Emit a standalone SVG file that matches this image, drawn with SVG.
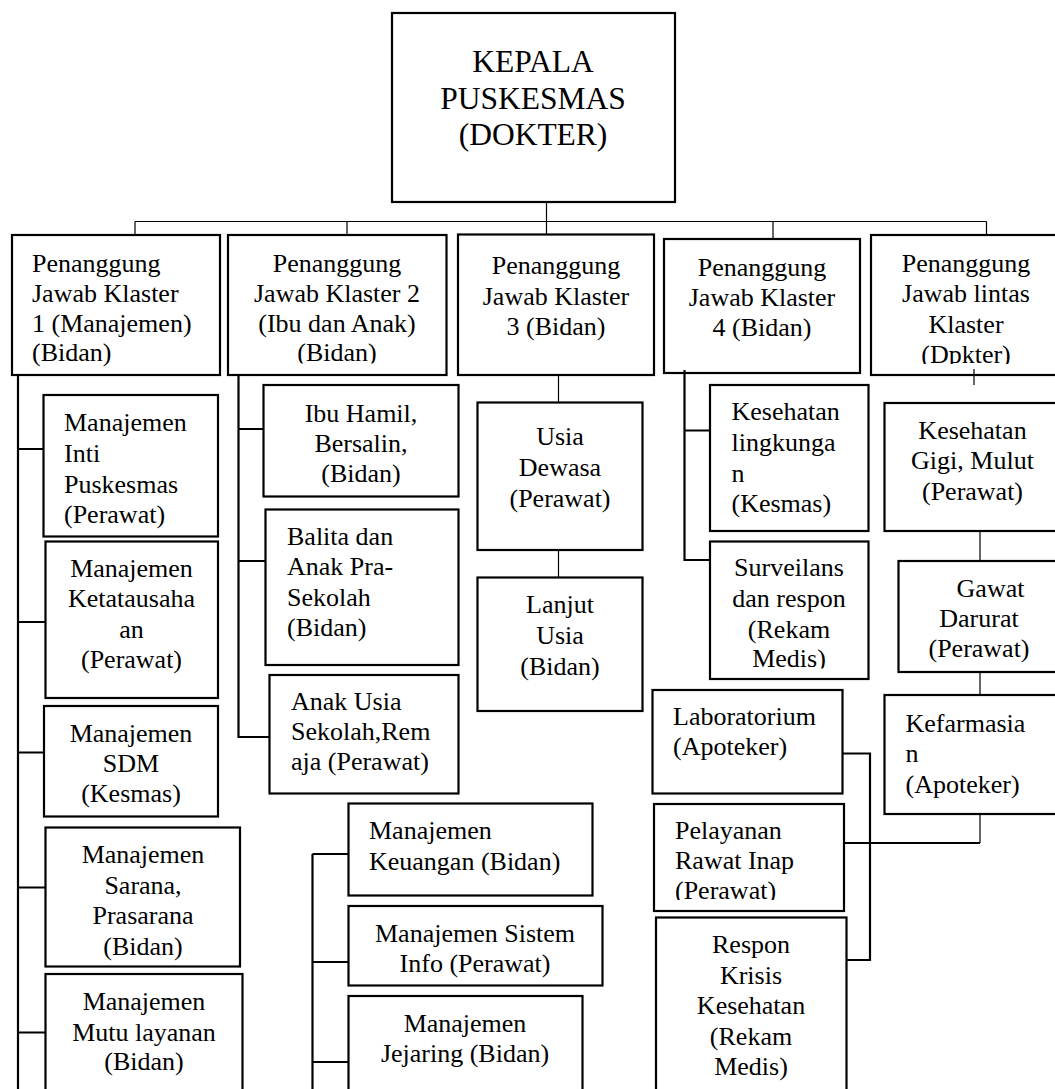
<svg xmlns="http://www.w3.org/2000/svg" width="1055" height="1089" viewBox="0 0 1055 1089" font-family="Liberation Serif, Tinos, Times New Roman, Nimbus Roman, DejaVu Serif, serif">
<style>
.box{fill:#fff;stroke:#000;stroke-width:2.2}
.t{font-family:'Liberation Serif','Tinos','Times New Roman','Nimbus Roman','DejaVu Serif',serif;font-size:26px;fill:#000}
.c{text-anchor:middle}
.big{font-size:31.5px}
.ln{stroke:#000;fill:none;stroke-width:2.2}
.th{stroke:#000;fill:none;stroke-width:1.2}
</style>
<defs>
<clipPath id="clipB2"><rect x="228" y="235" width="219" height="128.5"/></clipPath>
<clipPath id="clipB5"><rect x="871" y="235" width="192" height="129"/></clipPath>
<clipPath id="clipSurv"><rect x="710" y="541" width="159" height="127.5"/></clipPath>
<clipPath id="clipPel"><rect x="654" y="804" width="190" height="96"/></clipPath>
</defs>
<rect width="1055" height="1089" fill="#fff"/>

<g id="kepala">
<rect class="box" x="392" y="13" width="283" height="189"/>
<text class="t c big" x="533" y="72">KEPALA</text>
<text class="t c big" x="533" y="108.5">PUSKESMAS</text>
<text class="t c big" x="533" y="145">(DOKTER)</text>
</g>

<g id="pj1">
<rect class="box" x="12" y="235" width="208" height="140"/>
<text class="t" x="32" y="272">Penanggung</text>
<text class="t" x="32" y="302">Jawab Klaster</text>
<text class="t" x="32" y="331.5">1 (Manajemen)</text>
<text class="t" x="32" y="361">(Bidan)</text>
</g>
<g id="pj2">
<rect class="box" x="228" y="235" width="218.5" height="140"/>
<g clip-path="url(#clipB2)">
<text class="t c" x="337" y="272">Penanggung</text>
<text class="t c" x="337" y="302">Jawab Klaster 2</text>
<text class="t c" x="337" y="331.5">(Ibu dan Anak)</text>
<text class="t c" x="337" y="361">(Bidan)</text>
</g>
</g>
<g id="pj3">
<rect class="box" x="458" y="234.5" width="196" height="140.5"/>
<text class="t c" x="556" y="274">Penanggung</text>
<text class="t c" x="556" y="305">Jawab Klaster</text>
<text class="t c" x="556" y="335">3 (Bidan)</text>
</g>
<g id="pj4">
<rect class="box" x="664" y="239" width="196" height="134"/>
<text class="t c" x="762" y="275.5">Penanggung</text>
<text class="t c" x="762" y="306">Jawab Klaster</text>
<text class="t c" x="762" y="336">4 (Bidan)</text>
</g>
<g id="pj5">
<rect class="box" x="871" y="235" width="192" height="140"/>
<g clip-path="url(#clipB5)">
<text class="t c" x="966" y="271.5">Penanggung</text>
<text class="t c" x="966" y="302">Jawab lintas</text>
<text class="t c" x="966" y="332.5">Klaster</text>
<text class="t c" x="966" y="363">(Dpkter)</text>
</g>
</g>

<g id="inti">
<rect class="box" x="43.5" y="395" width="174.5" height="141.5"/>
<text class="t" x="64" y="431">Manajemen</text>
<text class="t" x="64" y="462">Inti</text>
<text class="t" x="64" y="493">Puskesmas</text>
<text class="t" x="64" y="523">(Perawat)</text>
</g>
<g id="ketatausahaan">
<rect class="box" x="45.5" y="541.5" width="172.5" height="156.5"/>
<text class="t c" x="131.5" y="577">Manajemen</text>
<text class="t c" x="131.5" y="607">Ketatausaha</text>
<text class="t c" x="131.5" y="638">an</text>
<text class="t c" x="131.5" y="668">(Perawat)</text>
</g>
<g id="sdm">
<rect class="box" x="44" y="706" width="174" height="110.5"/>
<text class="t c" x="131" y="742">Manajemen</text>
<text class="t c" x="131" y="772">SDM</text>
<text class="t c" x="131" y="802">(Kesmas)</text>
</g>
<g id="sarana">
<rect class="box" x="45.5" y="827.5" width="194.5" height="139"/>
<text class="t c" x="143" y="863">Manajemen</text>
<text class="t c" x="143" y="893.5">Sarana,</text>
<text class="t c" x="143" y="924">Prasarana</text>
<text class="t c" x="143" y="955">(Bidan)</text>
</g>
<g id="mutu">
<rect class="box" x="45.5" y="974" width="197" height="130"/>
<text class="t c" x="144" y="1010">Manajemen</text>
<text class="t c" x="144" y="1040.5">Mutu layanan</text>
<text class="t c" x="144" y="1070">(Bidan)</text>
</g>

<g id="ibuhamil">
<rect class="box" x="263.5" y="385" width="195" height="111.5"/>
<text class="t c" x="361" y="421.5">Ibu Hamil,</text>
<text class="t c" x="361" y="451.5">Bersalin,</text>
<text class="t c" x="361" y="481.5">(Bidan)</text>
</g>
<g id="balita">
<rect class="box" x="265.5" y="509.5" width="193" height="155.5"/>
<text class="t" x="287" y="545">Balita dan</text>
<text class="t" x="287" y="575">Anak Pra-</text>
<text class="t" x="287" y="605.5">Sekolah</text>
<text class="t" x="287" y="636">(Bidan)</text>
</g>
<g id="anakusia">
<rect class="box" x="269.5" y="675" width="189" height="118.5"/>
<text class="t" x="291" y="710">Anak Usia</text>
<text class="t" x="291" y="740">Sekolah,Rem</text>
<text class="t" x="291" y="770">aja (Perawat)</text>
</g>

<g id="dewasa">
<rect class="box" x="477.5" y="402.5" width="165" height="147.5"/>
<text class="t c" x="560" y="445">Usia</text>
<text class="t c" x="560" y="476">Dewasa</text>
<text class="t c" x="560" y="506.5">(Perawat)</text>
</g>
<g id="lansia">
<rect class="box" x="477.5" y="577.5" width="165" height="133.5"/>
<text class="t c" x="560" y="613">Lanjut</text>
<text class="t c" x="560" y="644">Usia</text>
<text class="t c" x="560" y="675">(Bidan)</text>
</g>

<g id="kesling">
<rect class="box" x="710" y="385" width="158.5" height="146"/>
<text class="t" x="731.5" y="420">Kesehatan</text>
<text class="t" x="731.5" y="450.5">lingkunga</text>
<text class="t" x="731.5" y="481.5">n</text>
<text class="t" x="731.5" y="511.5">(Kesmas)</text>
</g>
<g id="surveilans">
<rect class="box" x="710" y="541.5" width="158.5" height="137.5"/>
<g clip-path="url(#clipSurv)">
<text class="t c" x="789" y="576">Surveilans</text>
<text class="t c" x="789" y="606.5">dan respon</text>
<text class="t c" x="789" y="637.5">(Rekam</text>
<text class="t c" x="789" y="667">Medis)</text>
</g>
</g>

<g id="gigi">
<rect class="box" x="884.5" y="403" width="180" height="128"/>
<text class="t c" x="972.5" y="438.5">Kesehatan</text>
<text class="t c" x="972.5" y="469">Gigi, Mulut</text>
<text class="t c" x="972.5" y="500">(Perawat)</text>
</g>
<g id="gawat">
<rect class="box" x="898.5" y="561" width="170" height="111"/>
<text class="t c" x="990.5" y="596.5">Gawat</text>
<text class="t c" x="979" y="626.5">Darurat</text>
<text class="t c" x="979" y="656.5">(Perawat)</text>
</g>
<g id="kefarmasian">
<rect class="box" x="884.5" y="695" width="180" height="119"/>
<text class="t" x="905.5" y="731.5">Kefarmasia</text>
<text class="t" x="905.5" y="761.5">n</text>
<text class="t" x="905.5" y="792.5">(Apoteker)</text>
</g>

<g id="lab">
<rect class="box" x="652.5" y="690" width="190" height="103.5"/>
<text class="t" x="673" y="725">Laboratorium</text>
<text class="t" x="673" y="755">(Apoteker)</text>
</g>
<g id="rawatinap">
<rect class="box" x="654" y="804" width="190" height="107"/>
<g clip-path="url(#clipPel)">
<text class="t" x="675" y="838.5">Pelayanan</text>
<text class="t" x="675" y="869">Rawat Inap</text>
<text class="t" x="675" y="898.5">(Perawat)</text>
</g>
</g>
<g id="krisis">
<rect class="box" x="656" y="917.5" width="190.5" height="180"/>
<text class="t c" x="751" y="953">Respon</text>
<text class="t c" x="751" y="983.5">Krisis</text>
<text class="t c" x="751" y="1014">Kesehatan</text>
<text class="t c" x="751" y="1045">(Rekam</text>
<text class="t c" x="751" y="1075">Medis)</text>
</g>

<g id="keuangan">
<rect class="box" x="348.5" y="803.5" width="244" height="92"/>
<text class="t" x="369" y="839">Manajemen</text>
<text class="t" x="369" y="869.5">Keuangan (Bidan)</text>
</g>
<g id="sisteminfo">
<rect class="box" x="348.5" y="906" width="254" height="79.5"/>
<text class="t c" x="475" y="941.5">Manajemen Sistem</text>
<text class="t c" x="475" y="971.5">Info (Perawat)</text>
</g>
<g id="jejaring">
<rect class="box" x="348.5" y="996" width="234" height="110"/>
<text class="t c" x="465" y="1031.5">Manajemen</text>
<text class="t c" x="465" y="1061.5">Jejaring (Bidan)</text>
</g>

<g id="connectors">
<path class="th" d="M546.5 202V234.5M135 221.5H986.5M135 221.5V235M347 221.5V235M773 221.5V239M986.5 221.5V235"/>
<path class="ln" d="M18 375V1095M18 449H43.5M18 622H45.5M18 752.5H44M18 887.5H45.5M18 1032.5H45.5"/>
<path class="ln" d="M238.5 375V737H269.5M238.5 429H263.5M238.5 561H265.5"/>
<path class="th" d="M558.5 375V402.5M558.5 550V577.5"/>
<path class="ln" d="M684.5 370V560H710M684.5 430.5H710"/>
<path class="th" d="M974 369V385M980 531V561M980 672V695M980 814V843"/>
<path class="ln" d="M845 843H980M842.5 753.5H870V960H846.5"/>
<path class="ln" d="M312.5 854V1095M312.5 854H348.5M312.5 962H348.5M312.5 1062H348.5"/>
</g>
</svg>
